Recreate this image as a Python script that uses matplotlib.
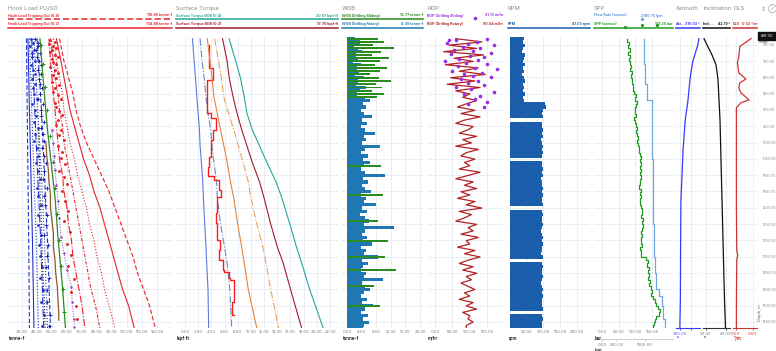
import numpy as np
import matplotlib.pyplot as plt
from matplotlib.lines import Line2D
from matplotlib.patches import Rectangle
from matplotlib.ticker import FormatStrFormatter

plt.rcParams['font.family'] = ['Inter', 'DejaVu Sans']

W, H = 776, 351
TOP, BOT = 37, 328


def fx(px):
    return px / W


def fy(py):
    return 1 - py / H


# ---------------- data ----------------
# hook load models (tonne-f)
hl_depth = [681, 750, 800, 850, 900, 950, 1000, 1050, 1100, 1150, 1200, 1250, 1300, 1350, 1400, 1450, 1500, 1570]
hl_ff04 = [55, 58, 61, 64, 66, 69, 73, 78, 83, 88, 92, 96, 100, 104, 107, 111, 115, 118.9]
hl_ff03 = [53, 56, 58, 60, 62, 65, 68, 71, 75, 78, 82, 85, 88, 91, 94, 97, 101, 104.9]
hl_ff02 = [51, 53, 55, 57, 58, 60, 62, 65, 67, 70, 73, 75, 78, 80, 83, 85, 88, 92]
hl_ff01 = [49, 51, 52, 54, 55, 57, 58, 60, 62, 64, 66, 68, 70, 72, 74, 76, 79, 82]
hl_ff00 = [48, 49, 50, 51, 52, 53, 54, 55, 57, 58, 60, 61, 63, 64, 66, 68, 70, 72]

so_depth = [681, 900, 1100, 1300, 1570]
so_1 = [33, 33.5, 34, 34.5, 35]
so_2 = [34, 35, 36, 37, 38]
so_3 = [35, 36.5, 38, 39.5, 41]
so_4 = [36.5, 38.5, 40.5, 42.5, 44.5]
so_5 = [38, 40.5, 43, 45, 47]
so_6 = [40, 43, 45, 47, 49]

green_depth = [681, 800, 960, 1084, 1166, 1290, 1442, 1570]
green_val = [42, 44, 47, 50, 52, 54, 57, 59]

brown_depth = [1000, 1040, 1080, 1120, 1160, 1200, 1240, 1280, 1320, 1360, 1400, 1440, 1480, 1520, 1545]
brown_val = [46, 46.5, 47.5, 48, 49, 49, 50, 51, 51, 52, 52.5, 53.5, 54, 54.5, 54.5]

black_depth = [960, 1050, 1150, 1250, 1350, 1450, 1570]
black_val = [41, 41.5, 42, 43, 43.5, 44.5, 45.5]

pur_depth = [960, 1000, 1040, 1084, 1130, 1180, 1230, 1290, 1340, 1390, 1442, 1490, 1540, 1565]
pur_val = [50, 51, 51.5, 52, 53, 54, 55, 56, 58, 60, 63, 63.5, 64.5, 65]

rm_depth = [684, 690, 697, 703, 710, 716, 723, 730, 737, 745, 752, 760, 768, 776, 785, 794, 803, 813, 823, 833,
            844, 855, 866, 878, 890, 903, 916, 930, 945, 960, 976, 993, 1010, 1028, 1047, 1066, 1086, 1107, 1128,
            1150, 1180, 1210, 1240, 1275, 1310, 1345, 1380, 1420, 1460, 1500, 1540]
rm_val = [49, 52, 48, 51, 53, 50, 49, 52, 54, 50, 51, 53, 49, 52, 54, 51, 53, 50, 55, 52,
          51, 54, 56, 52, 53, 55, 57, 54, 53, 56, 55, 58, 54, 57, 56, 59, 55, 58, 60, 57,
          59, 61, 58, 62, 60, 63, 61, 65, 63, 66, 67]

bm_depth = [683, 693, 704, 715, 726, 738, 750, 763, 776, 790, 804, 819, 834, 850, 866, 883, 900, 918, 936, 955,
            975, 996, 1018, 1040, 1063, 1087, 1112, 1138, 1165, 1193, 1222, 1252, 1283, 1315, 1348, 1382, 1417,
            1453, 1490, 1528, 1562]
bm_val1 = [36, 37.5, 35.5, 38, 36.5, 37, 39, 36, 37.5, 38.5, 36.5, 39, 37.5, 38, 40, 37, 38.5, 39.5, 38, 40.5,
           39, 38, 40, 41, 39.5, 40.5, 42, 40, 41, 42.5, 41, 40.5, 43, 41.5, 42, 43.5, 42, 44, 43, 44.5, 43.5]
bm_val2 = [39, 40.5, 41, 39.5, 42, 40, 41.5, 42.5, 40.5, 43, 41.5, 42, 43.5, 42, 41, 44, 43, 42.5, 44.5, 43,
           44, 45, 43.5, 44.5, 46, 45, 44, 46.5, 45, 45.5, 47, 46, 45, 47.5, 46.5, 46, 48, 47, 46.5, 48.5, 48]

gm_depth = [700, 760, 830, 900, 980, 1060, 1140, 1220, 1300, 1380, 1450, 1520]
gm_val = [43, 44, 45.5, 46.5, 48.5, 50.5, 52, 53.5, 54.5, 56, 57.5, 58]

# surface torque (kipf-ft)
tq_depth = [681, 750, 800, 860, 910, 960, 1010, 1060, 1120, 1170, 1250, 1320, 1370, 1450, 1570]
tq_teal = [6.7, 7.7, 8.4, 9.0, 9.4, 10.2, 11.3, 12.4, 13.8, 14.7, 15.9, 16.9, 17.7, 18.9, 20.97]
tq_dred = [5.7, 6.4, 6.7, 7.3, 7.9, 8.6, 9.4, 10.2, 11.3, 12.0, 13.0, 14.0, 14.9, 16.0, 17.7]
tq_odd = [4.5, 5.1, 5.5, 5.9, 6.6, 7.4, 8.1, 8.8, 9.6, 10.0, 10.9, 11.8, 12.3, 13.0, 14.2]
tq_org = [3.4, 3.8, 4.1, 4.4, 4.9, 5.4, 5.9, 6.4, 6.9, 7.4, 8.0, 8.6, 9.0, 9.6, 10.9]
tq_bdd = [2.3, 2.6, 2.9, 3.2, 3.5, 3.9, 4.1, 4.4, 4.8, 4.9, 5.4, 6.0, 6.4, 6.8, 7.1]
tq_blu = [1.15, 1.4, 1.6, 1.8, 2.0, 2.2, 2.3, 2.5, 2.7, 2.8, 3.0, 3.2, 3.3, 3.5, 3.6]

ta_depth = [700, 772, 808, 859, 910, 926, 961, 992, 1043, 1074, 1104, 1115, 1145, 1166, 1217, 1248, 1299,
            1330, 1360, 1391, 1396, 1417, 1422, 1490, 1530]
ta_val = [3.7, 4.2, 3.4, 3.3, 3.9, 4.7, 4.2, 3.9, 3.7, 3.5, 4.4, 5.2, 5.4, 4.9, 4.7, 4.9, 5.3,
          5.2, 5.7, 5.9, 6.7, 6.9, 7.4, 7.2, 7.4]

# 10 m sampled drilling data
d10 = np.arange(681, 1572, 10)
wob_rot = [2.1, 3.4, 1.8, 2.9, 4.2, 2.5, 3.1, 1.6, 3.8, 2.7,
           3.3, 2.2, 4.6, 3.0, 2.4, 5.2, 3.6, 2.8, 4.9, 6.3,
           4.4, 5.1, 3.9, 4.7, 6.8, 4.2, 5.5, 3.8, 4.9, 7.6,
           4.5, 5.3, 4.0, 8.9, 4.8, 3.7, 5.6, 4.3, 6.2, 4.6,
           3.9, 5.0, 10.4, 4.4, 5.7, 4.1, 4.9, 6.5, 3.8, 5.2,
           4.7, 7.9, 4.2, 5.4, 3.6, 4.8, 6.1, 4.5, 12.8, 4.9,
           4.0, 5.5, 4.3, 6.7, 3.9, 5.1, 4.6, 8.4, 4.2, 5.8,
           4.4, 3.8, 5.3, 4.7, 9.7, 4.1, 5.0, 6.3, 4.5, 3.7,
           5.4, 4.2, 7.1, 4.8, 3.9, 5.6, 4.3, 6.0, 4.6, 4.39]
wob_sld = [8.4, 10.2, 7.1, 12.77, 9.3, 6.8, 11.5, 8.9, 7.6, 10.8,
           9.1, 6.4, 8.7, 11.9, 7.8, 9.6, 6.9, 10.1, 8.2, 0,
           0, 0, 0, 0, 0, 0, 0, 0, 0, 0,
           0, 0, 0, 0, 0, 0, 0, 0, 0, 9.2,
           0, 0, 0, 0, 0, 0, 0, 0, 9.8, 0,
           0, 0, 0, 0, 0, 0, 8.6, 0, 0, 0,
           0, 0, 11.2, 0, 0, 0, 0, 10.4, 0, 0,
           0, 13.5, 0, 0, 0, 0, 7.4, 0, 0, 0,
           0, 0, 9.0, 0, 0, 0, 0, 0, 0, 0]

rop_rot = [60, 135, 40, 120, 25, 140, 55, 110, 30, 125,
           70, 145, 45, 115, 35, 130, 60, 100, 80, 120,
           90, 65, 115, 75, 130, 85, 60, 110, 95, 70,
           120, 80, 105, 60, 125, 90, 75, 115, 85, 100,
           70, 130, 95, 60, 110, 85, 120, 75, 100, 65,
           115, 90, 135, 70, 105, 85, 60, 120, 95, 110,
           75, 125, 90, 100, 65, 115, 85, 130, 95, 70,
           110, 80, 120, 90, 105, 75, 95, 115, 85, 100,
           70, 110, 90, 120, 80, 100, 95, 110, 90, 90.04]
rop_sld_depth = [618, 684, 683, 686, 690, 694, 698, 702, 706, 711, 715, 719, 724, 728, 733, 737, 742, 746, 751, 756,
                 760, 765, 770, 775, 780, 785, 790, 795, 800, 806, 812, 818, 824, 830, 837, 844, 851, 858, 866,
                 874, 882, 890]
rop_sld_val = [115, 40, 150, 60, 120, 35, 95, 170, 80, 130, 55, 110, 160, 45, 100, 140, 70, 125, 30, 90,
               150, 65, 115, 180, 50, 135, 85, 110, 160, 75, 125, 95, 140, 60, 105, 170, 85, 130, 115, 150,
               95, 140]

rpm = [42, 38, 45, 40, 36, 44, 41, 39, 46, 40,
       43, 37, 41, 45, 39, 42, 40, 44, 38, 41,
       104, 108, 100, 96, 98, 0, 97, 95, 99, 96,
       98, 94, 97, 99, 95, 98, 96, 0, 97, 95,
       99, 96, 98, 94, 97, 95, 99, 96, 98, 97,
       95, 98, 0, 96, 99, 97, 95, 98, 96, 94,
       97, 99, 95, 98, 96, 97, 94, 98, 0, 96,
       99, 95, 97, 98, 96, 94, 97, 99, 95, 98,
       96, 97, 95, 98, 0, 96, 99, 97, 95, 96]

spp = [76, 80, 78, 83, 79, 84, 82,
       85, 88, 84, 89, 87, 91,
       90, 94, 92, 97, 101, 99, 105,
       103, 100, 98, 101, 97, 99,
       102, 104, 101, 106, 108, 105,
       109, 112, 110, 114, 116, 113, 117,
       115, 118, 114, 116, 113, 115,
       112, 116, 114, 117, 115, 113,
       116, 119, 121, 118, 123, 120,
       122, 119, 117, 120, 118, 116,
       119, 115, 118, 116, 132, 138,
       135, 140, 137, 142, 139, 144,
       141, 146, 150, 147, 152, 159,
       162, 168, 174, 170, 163, 159,
       156, 154, 151.25]
spp_extra_depth = [645, 639, 639]
spp_extra_val = [69, 119, 164]

flow_depth = [681, 760, 820, 870, 950, 1050, 1150, 1250, 1300, 1350, 1400, 1450, 1470, 1500, 1540, 1570]
flow = [1480, 1500, 1560, 1740, 1760, 1770, 1790, 1810, 1800, 1850, 1870, 2000, 2090, 2120, 2180, 2100.75]

# survey
srv_depth = [681, 700, 750, 800, 870, 930, 1020, 1100, 1180, 1300, 1480, 1570]
azimuth = [334, 332, 323, 318, 314, 309, 305, 303, 301, 300.5, 300, 299]
inc_depth = [681, 700, 731, 761, 807, 930, 1176, 1483, 1570]
inclination = [16, 22, 32, 40, 44, 48, 52, 57, 59]
dls_depth = [681, 705, 736, 755, 786, 805, 817, 832, 847, 869, 878, 893, 1000, 1200, 1330, 1345, 1360, 1500, 1570]
dls = [0.45, 0.12, 0.09, 0.05, 0.09, 0.30, 0.12, 0.09, 0.15, 0.39, 0.15, 0.02, 0.02, 0.02, 0.03, 0.06, 0.03, 0.02, 0.02]

# ---------------- colours ----------------
RED = '#e8232a'
BLUE = '#2233cc'
TEAL = '#26a69a'
DRED = '#9e1b32'
ORANGE = '#e8823a'
GREEN = '#2a8c1f'
WBLUE = '#1f78b4'
PURPLE = '#9a2fe0'
RRED = '#b22222'
RPMB = '#1b5eab'
LBLUE = '#6fa8dc'
GRID = '#e8ecf4'


def steps(depth, vals):
    d = np.asarray(depth, float)
    v = np.asarray(vals, float)
    return np.repeat(v, 2)[:-1], np.repeat(d, 2)[1:]


fig = plt.figure(figsize=(7.76, 3.51), dpi=100)

tracks = [(8, 172), (176, 338), (342, 423), (427, 503), (508, 590),
          (594, 673), (676, 700), (703, 730), (733, 757)]
axes = []
for x0, x1 in tracks:
    ax = fig.add_axes([fx(x0), fy(BOT), (x1 - x0) / W, (BOT - TOP) / H])
    ax.set_ylim(1569, 676)
    ax.set_yticks(np.arange(700, 1551, 50))
    ax.tick_params(axis='y', length=0, labelleft=False)
    ax.grid(True, color=GRID, lw=0.6)
    ax.set_axisbelow(True)
    for s in ax.spines.values():
        s.set_visible(False)
    ax.tick_params(axis='x', length=0, labelsize=3, labelcolor='#777777', pad=1.5)
    ax.xaxis.set_major_formatter(FormatStrFormatter('%.2f'))
    axes.append(ax)

a1, a2, a3, a4, a5, a6, a7, a8, a9 = axes

# track 1: hook load
a1.set_xlim(20.7, 130)
a1.set_xticks(np.arange(30, 121, 10))
for vals, ls in [(so_1, (0, (4, 2))), (so_2, '-'), (so_3, ':'), (so_4, '-.'), (so_5, ':'), (so_6, (0, (4, 2)))]:
    a1.plot(vals, so_depth, color=BLUE, ls=ls, lw=0.8)
a1.plot(bm_val1, bm_depth, ls='none', marker='.', ms=2, color=BLUE)
a1.plot(bm_val2, bm_depth, ls='none', marker='+', ms=2.2, mew=0.6, color='#1a1aa0')
a1.plot(black_val, black_depth, color='#222222', ls=':', lw=0.8)
a1.plot(brown_val, brown_depth, color='#8b5a2b', lw=0.9)
a1.plot(green_val, green_depth, color=GREEN, lw=0.9)
a1.plot(gm_val, gm_depth, ls='none', marker='+', ms=2.5, mew=0.7, color=GREEN)
a1.plot(pur_val, pur_depth, color='#9040c0', lw=0.7, ls=':', marker='.', ms=1.5)
a1.plot(rm_val, rm_depth, ls='none', marker='.', ms=2.2, color=RED)
for vals, ls in [(hl_ff00, '-.'), (hl_ff01, (0, (3, 1.5, 1, 1.5))), (hl_ff02, ':'),
                 (hl_ff03, '-'), (hl_ff04, (0, (4, 2)))]:
    a1.plot(vals, hl_depth, color=RED, ls=ls, lw=0.8)

# track 2: torque
a2.set_xlim(-1.35, 23.2)
a2.set_xticks(np.arange(0, 23, 2))
a2.plot(tq_blu, tq_depth, color='#5b7be0', lw=0.8)
a2.plot(tq_bdd, tq_depth, color='#5f8fbf', lw=0.8, ls='-.')
sx, sy = steps(ta_depth, ta_val)
a2.plot(sx, sy, color='#ff1a1a', lw=1.0)
a2.plot(tq_org, tq_depth, color=ORANGE, lw=0.8)
a2.plot(tq_odd, tq_depth, color='#e8a060', lw=0.8, ls='-.')
a2.plot(tq_dred, tq_depth, color=DRED, lw=0.8)
a2.plot(tq_teal, tq_depth, color=TEAL, lw=0.8)

# track 3: WOB
a3.set_xlim(-1.4, 20.8)
a3.set_xticks(np.arange(0, 21, 4))
a3.barh(d10, wob_rot, height=10, color=WBLUE, lw=0)
a3.barh(d10, wob_sld, height=6, color=GREEN, lw=0)

# track 4: ROP
a4.set_xlim(-23, 196)
a4.set_xticks([0, 50, 100, 150])
a4.plot(rop_rot, d10, color=RRED, lw=0.9)
a4.plot(rop_sld_val, rop_sld_depth, ls='none', marker='o', ms=1.6, color=PURPLE, clip_on=False)

# track 5: RPM
a5.set_xlim(-6, 240)
a5.set_xticks([50, 100, 150, 200])
a5.barh(d10, rpm, height=10, color=RPMB, lw=0)

# track 6: SPP + flow
a6.set_xlim(-24, 213)
a6.set_xticks([0, 50, 100, 150])
fx_, fy_ = steps(flow_depth, flow)
a6f = a6.twiny()
a6f.set_xlim(-280, 2475)
a6f.set_ylim(1569, 676)
a6f.plot(fx_, fy_, color=LBLUE, lw=0.9)
a6f.plot([1383], [620], ls='none', marker='o', ms=1.3, color=LBLUE, clip_on=False)
for s in a6f.spines.values():
    s.set_visible(False)
a6f.xaxis.set_ticks_position('bottom')
a6f.xaxis.set_label_position('bottom')
a6f.spines['bottom'].set_position(('outward', 8))
a6f.spines['bottom'].set_visible(True)
a6f.spines['bottom'].set_color('#bbbbbb')
a6f.spines['bottom'].set_linewidth(0.5)
a6f.set_xticks([0, 500, 1500])
a6f.xaxis.set_major_formatter(FormatStrFormatter('%.2f'))
a6f.tick_params(axis='x', length=1.5, width=0.4, color='#bbbbbb', labelsize=3, labelcolor='#777777', pad=1)
sx, sy = steps(d10, spp)
a6.plot(sx, sy, color='#1e9a1e', lw=0.9)
a6.plot(spp_extra_val, spp_extra_depth, ls='none', marker='o', ms=1.3, color='#1e9a1e', clip_on=False)

# tracks 7-9: survey
a7.set_xlim(292, 336)
a7.set_xticks([300, 320])
a7.set_xticklabels(['300.00', ''])
a7.plot(azimuth, srv_depth, color='#3838ff', lw=0.9)
a8.set_xlim(14, 68)
a8.set_xticks([20, 60])
a8.plot(inclination, inc_depth, color='#111111', lw=0.9)
a9.set_xlim(-0.08, 0.626)
a9.set_xticks([0, 0.5])
a9.plot(dls, dls_depth, color='#cc3333', lw=0.9)
for ax, c, lc in [(a7, '#3838ff', '#5050ff'), (a8, '#333333', '#777777'), (a9, '#cc3333', '#cc3333')]:
    ax.spines['bottom'].set_visible(True)
    ax.spines['bottom'].set_color(c)
    ax.spines['bottom'].set_linewidth(0.8)
    ax.tick_params(axis='x', length=1.5, width=0.6, color=c, labelcolor=lc)

# depth labels on the right
a9.yaxis.tick_right()
a9.tick_params(axis='y', labelright=True, labelsize=2.6, labelcolor='#888888', pad=4)
a9.yaxis.set_major_formatter(FormatStrFormatter('%.2f'))
fig.text(fx(759.5), fy(313), 'Depth, m', rotation=90, fontsize=2.8, color='#555555', ha='center', va='center')

# unit labels under x axes
units = [(8, 'tonne-f', '#333333'), (176, 'kipf·ft', '#333333'), (342, 'tonne-f', '#333333'),
         (427, 'm/hr', '#333333'), (508, 'rpm', '#333333'), (594, 'bar', '#333333'),
         (676, '°', '#3838ff'), (703, '°', '#333333'), (733, '°/m', '#cc3333')]
for x0, u, c in units:
    fig.text(fx(x0 + 1), fy(338.5), u, fontsize=3.2, fontweight='bold', color=c, va='center')
fig.text(fx(595), fy(349.5), 'lpm', fontsize=3.0, fontweight='bold', color='#333333', va='center')

# header
titles = ['Hook Load PU/SO', 'Surface Torque', 'WOB', 'ROP', 'RPM', 'SPP', 'Azimuth', 'Inclination', 'DLS']
for (x0, x1), t in zip(tracks, titles):
    fig.text(fx(x0), fy(8.5), t, fontsize=4.2, color='#8a8a8a', va='center')

legend_rows = [
    (0, 1, 'Hook Load Tripping Out (0.4)', '118.86 tonne-f', RED, (0, (4, 2)), None),
    (0, 2, 'Hook Load Tripping Out (0.3)', '104.88 tonne-f', RED, '-', None),
    (1, 1, 'Surface Torque BOB (0.4)', '20.97 kipf·ft', TEAL, '-', None),
    (1, 2, 'Surface Torque BOB (0.3)', '17.70 kipf·ft', DRED, '-', None),
    (2, 1, 'WOB (Drilling Sliding)', '12.77 tonne-f', GREEN, '-', None),
    (2, 2, 'WOB (Drilling Rotary)', '4.39 tonne-f', WBLUE, '-', None),
    (3, 1, 'ROP (Drilling Sliding)', '31.13 m/hr', PURPLE, None, None),
    (3, 2, 'ROP (Drilling Rotary)', '90.04 m/hr', RRED, None, None),
    (4, 2, 'RPM', '41.00 rpm', RPMB, '-', None),
    (5, 1, 'Flow Rate (sensor)', '2100.75 lpm', '#5a8fd6', None, 663),
    (5, 2, 'SPP (sensor)', '151.25 bar', '#1e9a1e', '-', None),
    (6, 2, 'Azi...', '316.03 °', '#3838ff', '-', None),
    (7, 2, 'Incli...', '42.19 °', '#111111', '-', None),
    (8, 2, 'DLS', '0.02 °/m', '#cc3333', '-', None),
]
for ti, row, lab, val, c, ls, vx in legend_rows:
    x0, x1 = tracks[ti]
    ty = 15.5 if row == 1 else 24.0
    ly = 19.0 if row == 1 else 27.5
    fig.text(fx(x0), fy(ty), lab, fontsize=2.6, fontweight='bold', color=c, va='center')
    fig.text(fx(vx if vx else x1), fy(ty), val, fontsize=2.6, fontweight='bold', color=c,
             va='center', ha='right')
    if ls is not None:
        fig.add_artist(Line2D([fx(x0), fx(x1)], [fy(ly), fy(ly)], color=c, lw=1.1, ls=ls,
                              transform=fig.transFigure))

# shoe marker
fig.add_artist(Rectangle((fx(758), fy(39.5)), fx(776) - fx(758), fy(32) - fy(39.5),
                         color='#111111', transform=fig.transFigure))
fig.text(fx(767), fy(35.8), '681.00', fontsize=2.8, color='white', ha='center', va='center')
fig.text(fx(759), fy(42), 'Shoe', fontsize=2.8, color='#333333', va='center')

# toolbar glyphs
fig.text(fx(763), fy(9), '⇕', fontsize=4.5, color='#999999', ha='center', va='center')
fig.text(fx(772), fy(9), '⊘', fontsize=4.5, color='#999999', ha='center', va='center')

fig.savefig('out.png', dpi=100)
